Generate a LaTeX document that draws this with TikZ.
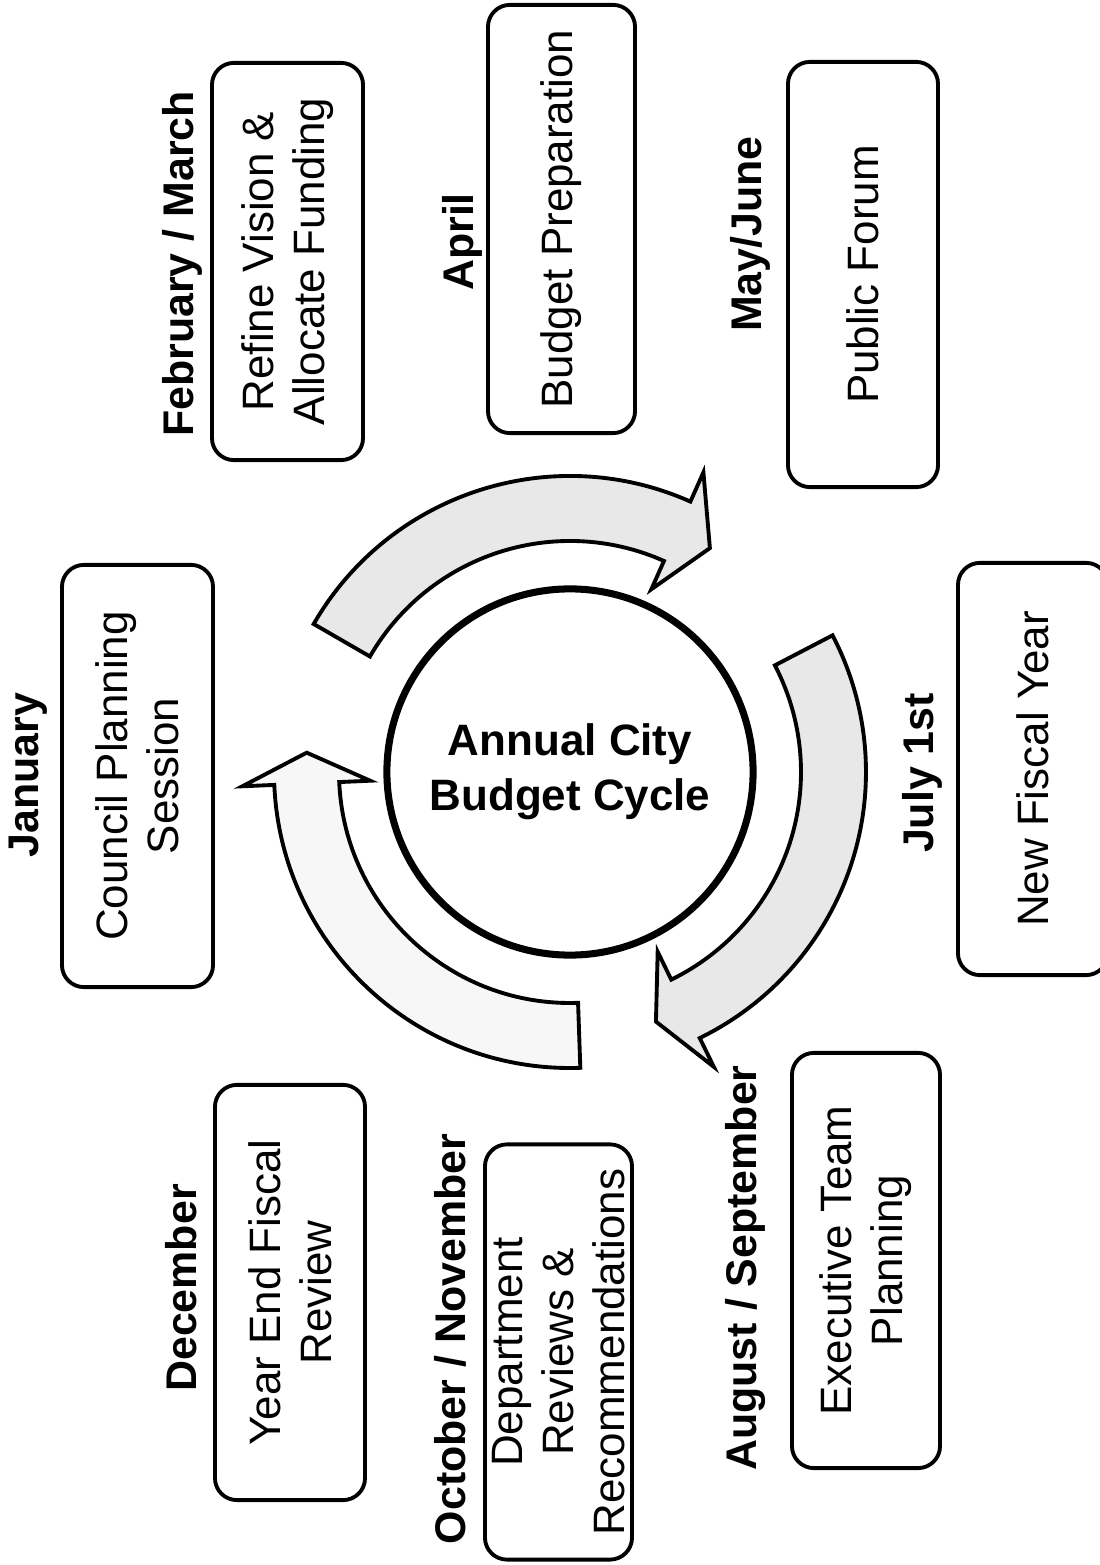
\documentclass[tikz,border=0pt]{standalone}
\usepackage{fontspec}
\setmainfont{Liberation Sans}
\usepackage{tikz}
\usetikzlibrary{arrows.meta}

\begin{document}
\begin{tikzpicture}[line join=round,x=0.01cm,y=0.01cm,
    stagebox/.style={draw,line width=1.1pt,rounded corners=0.22cm,rotate=90,align=center,inner sep=0pt,font=\fontsize{12.5}{14.5}\selectfont},
    monthlbl/.style={rotate=90,inner sep=0pt,font=\fontsize{12.2}{14}\selectfont\bfseries},
    hub/.style={circle,draw,line width=2pt,minimum size=3.66cm,align=center,font=\fontsize{12.5}{15.6}\selectfont\bfseries},
    cyclearrow/.style={draw,line width=1.1pt,line join=miter}]
                \useasboundingbox (0,0) rectangle (1100,1565);
                % hub
                \node[hub] (hub) at (570,793) {Annual City\\Budget Cycle};
                % curved arrows round the hub
                \draw[cyclearrow,fill=black!9,shift={(hub.center)}] (150:296) arc[start angle=150,end angle=66,radius=296] -- (66:328) -- (58:264) -- (66:200) -- (66:231) arc[start angle=66,end angle=150,radius=231] -- cycle;
                \draw[cyclearrow,fill=black!9,shift={(hub.center)}] (27.5:296) arc[start angle=27.5,end angle=-64,radius=296] -- (-64:328) -- (-71:264) -- (-64:200) -- (-64:231) arc[start angle=-64,end angle=27.5,radius=231] -- cycle;
                \draw[cyclearrow,fill=black!3,shift={(hub.center)}] (-88:296) arc[start angle=-88,end angle=-177.5,radius=296] -- (-177.5:328) -- (-184.2:264) -- (-177.5:200) -- (-177.5:231) arc[start angle=-177.5,end angle=-88,radius=231] -- cycle;
                % stages
                \node[stagebox,minimum width=4.22cm,minimum height=1.51cm] (jan) at (137.5,789) {Council Planning\\Session};
                \node[stagebox,minimum width=3.97cm,minimum height=1.51cm] (febmar) at (287.5,1303.5) {Refine Vision \&\\Allocate Funding};
                \node[stagebox,minimum width=4.28cm,minimum height=1.47cm] (apr) at (561.5,1346) {Budget Preparation};
                \node[stagebox,minimum width=4.25cm,minimum height=1.50cm] (mayjun) at (863,1290.5) {Public Forum};
                \node[stagebox,minimum width=4.12cm,minimum height=1.50cm] (jul) at (1033,796) {New Fiscal Year};
                \node[stagebox,minimum width=4.15cm,minimum height=1.48cm] (augsep) at (866,304.5) {Executive Team\\Planning};
                \node[stagebox,minimum width=4.15cm,minimum height=1.47cm] (octnov) at (558.5,213) {Department\\Reviews \&\\Recommendations};
                \node[stagebox,minimum width=4.15cm,minimum height=1.50cm] (dec) at (290,272.5) {Year End Fiscal\\Review};
                % month labels
                \node[monthlbl] (janlbl) at (28,790) {January};
                \node[monthlbl] (febmarlbl) at (182,1301) {February / March};
                \node[monthlbl] (aprlbl) at (462,1323) {April};
                \node[monthlbl] (mayjunlbl) at (750,1331) {May/June};
                \node[monthlbl] (jullbl) at (922,792) {July 1st};
                \node[monthlbl] (augseplbl) at (746,297) {August / September};
                \node[monthlbl] (octnovlbl) at (450,226) {October / November};
                \node[monthlbl] (declbl) at (181,277) {December};
            \end{tikzpicture}
\end{document}
